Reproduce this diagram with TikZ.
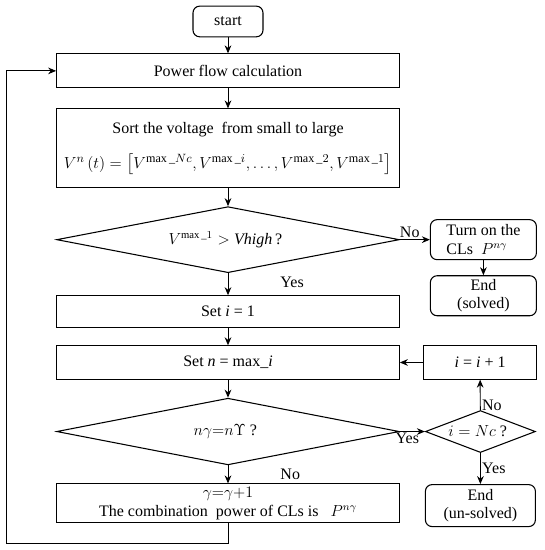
\documentclass[tikz,border=0pt]{standalone}
\usepackage{amsmath,amssymb}
\usepackage{fontspec}
\setmainfont{Liberation Serif}
\usepackage{tikz}
\usetikzlibrary{positioning,arrows.meta,shapes.geometric}

\begin{document}
\begin{tikzpicture}[
            x=1pt, y=1pt,
            font=\fontsize{12}{14}\selectfont,
            proc/.style={rectangle, draw, line width=0.8pt, minimum width=257pt,
                         minimum height=25.5pt, inner sep=2pt, align=center},
            term/.style={rectangle, draw, line width=0.8pt, rounded corners=5pt,
                         minimum width=79.5pt, minimum height=30pt, inner sep=2pt, align=center},
            decision/.style={diamond, draw, line width=0.8pt, inner sep=0pt, align=center},
            arrow/.style={-{Stealth[length=6pt,width=5pt]}, line width=0.7pt},
            lbl/.style={inner sep=1pt}
        ]
            \useasboundingbox (0,0) rectangle (408,-412.5);

            % main column
            \node[term, minimum width=52.5pt, minimum height=23pt] (start) at (171,-16.1) {start};

            \node[proc, below=12pt of start] (power) {Power flow calculation};

            \node[proc, below=15pt of power, minimum height=59pt] (sort) {
                Sort the voltage\ \ from small to large\\[12pt]
                {\fontsize{13}{15}\selectfont
                $V^{n}\,(t) = \bigl[V^{\max\_Nc}, V^{\max\_i}, \dots, V^{\max\_2}, V^{\max\_1}\bigr]$}
            };

            \node[decision, aspect=5.2, below=13.5pt of sort, minimum width=257pt, minimum height=49.5pt] (vcheck) {
                $V^{\max\_1} > \textit{Vhigh}$\,?
            };

            \node[proc, below=16.5pt of vcheck, minimum height=24pt] (seti) {Set \textit{i} = 1};

            \node[proc, below=12.75pt of seti, minimum height=25pt] (setn) {Set \textit{n} = max\_\textit{i}};

            \node[decision, aspect=5.1, below=13.5pt of setn, minimum width=257pt, minimum height=50pt] (ncheck) {
                $n\gamma{=}n\Upsilon$ ?
            };

            \node[proc, below=13.5pt of ncheck, minimum height=29pt] (comb) {
                $\gamma{=}\gamma{+}1$\\
                The combination\ \ power of CLs is\ \ \ $P^{n\gamma}$
            };

            % right column
            \node[term, right=22.5pt of vcheck, align=left] (turnon) {Turn on the\\CLs\ \ $P^{n\gamma}$};
            \node[term, below=11.25pt of turnon] (endok) {End\\(solved)};

            \node[proc, right=17.25pt of setn, minimum width=85pt, minimum height=25pt] (incr) {\textit{i} = \textit{i} + 1};

            \node[decision, aspect=2.6, right=18.75pt of ncheck, minimum width=82.5pt, minimum height=31.5pt] (lastcheck) {
                $i = Nc$ ?
            };

            \node[term, below=23.25pt of lastcheck, minimum width=82.5pt, minimum height=31.5pt] (endfail) {End\\(un-solved)};

            % connections
            \draw[arrow] (start) -- (power);
            \draw[arrow] (power) -- (sort);
            \draw[arrow] (sort) -- (vcheck);
            \draw[arrow] (vcheck) -- node[lbl, above, pos=0.33] {No} (turnon);
            \draw[arrow] (turnon) -- (endok);
            \draw[arrow] (vcheck) -- node[lbl, right=38pt, pos=0.4] {Yes} (seti);
            \draw[arrow] (seti) -- (setn);
            \draw[arrow] (setn) -- (ncheck);
            \draw[arrow] (ncheck) -- node[lbl, below, pos=0.3] {Yes} (lastcheck);
            \draw[arrow] (ncheck) -- node[lbl, right=38pt, pos=0.5] {No} (comb);
            \draw[arrow] (lastcheck) -- node[lbl, right, pos=0.15] {No} (incr);
            \draw[arrow] (lastcheck) -- node[lbl, right] {Yes} (endfail);
            \draw[arrow] (incr) -- (setn);

            % back to power flow
            \coordinate[below left=15pt and 37.5pt of comb.south west] (loopcorner);
            \draw[arrow] (comb.south) |- (loopcorner) |- (power.west);
        \end{tikzpicture}
\end{document}
